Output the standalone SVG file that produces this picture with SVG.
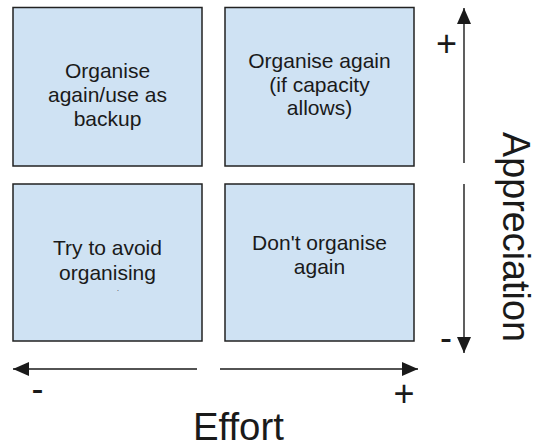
<svg xmlns="http://www.w3.org/2000/svg" width="536" height="448" viewBox="0 0 536 448">
<style>
.box{fill:#cfe2f3;stroke:#222;stroke-width:1.5}
.t{font-family:"Liberation Sans",Arial,sans-serif;font-size:21px;fill:#1a1a1a;text-anchor:middle}
.big{font-family:"Liberation Sans",Arial,sans-serif;font-size:38px;fill:#1a1a1a;text-anchor:middle}
.sign{font-family:"Liberation Sans",Arial,sans-serif;font-size:36px;fill:#1a1a1a;text-anchor:middle}
.ax{stroke:#1a1a1a;stroke-width:1.4;fill:none;marker-end:url(#ah)}
</style>
<defs>
<marker id="ah" markerUnits="userSpaceOnUse" markerWidth="16" markerHeight="14" refX="16" refY="7" orient="auto">
<path d="M0,0 L16,7 L0,14 z" fill="#1a1a1a"/>
</marker>
</defs>
<g id="q-top-left">
<rect class="box" x="13" y="7.5" width="189" height="158.5"/>
<text class="t" x="107.5" y="78">Organise</text>
<text class="t" x="107.5" y="102">again/use as</text>
<text class="t" x="107.5" y="126">backup</text>
</g>
<g id="q-top-right">
<rect class="box" x="225" y="7.5" width="189" height="158.5"/>
<text class="t" x="319.5" y="68">Organise again</text>
<text class="t" x="319.5" y="91.5">(if capacity</text>
<text class="t" x="319.5" y="115">allows)</text>
</g>
<g id="q-bottom-left">
<rect class="box" x="13" y="184" width="189" height="157"/>
<text class="t" x="107.5" y="255">Try to avoid</text>
<text class="t" x="107.5" y="280">organising</text>
<text class="t" x="118" y="291" style="font-size:7px">.</text>
</g>
<g id="q-bottom-right">
<rect class="box" x="225" y="184" width="189" height="157"/>
<text class="t" x="319.5" y="250">Don't organise</text>
<text class="t" x="319.5" y="273.5">again</text>
</g>
<g id="connectors">
<line class="ax" x1="464" y1="163" x2="464" y2="8"/>
<line class="ax" x1="464" y1="184" x2="464" y2="353"/>
<line class="ax" x1="197" y1="369" x2="13" y2="369"/>
<line class="ax" x1="220" y1="369" x2="418" y2="369"/>
</g>
<g id="labels">
<text class="sign" x="446.5" y="56">+</text>
<text class="sign" x="446" y="350">-</text>
<text class="sign" x="37.5" y="401">-</text>
<text class="sign" x="404" y="406">+</text>
<text class="big" x="238.4" y="440" textLength="91" lengthAdjust="spacingAndGlyphs">Effort</text>
<text class="big" transform="translate(503,237) rotate(90)" x="0" y="0" textLength="210" lengthAdjust="spacingAndGlyphs">Appreciation</text>
</g>
</svg>
